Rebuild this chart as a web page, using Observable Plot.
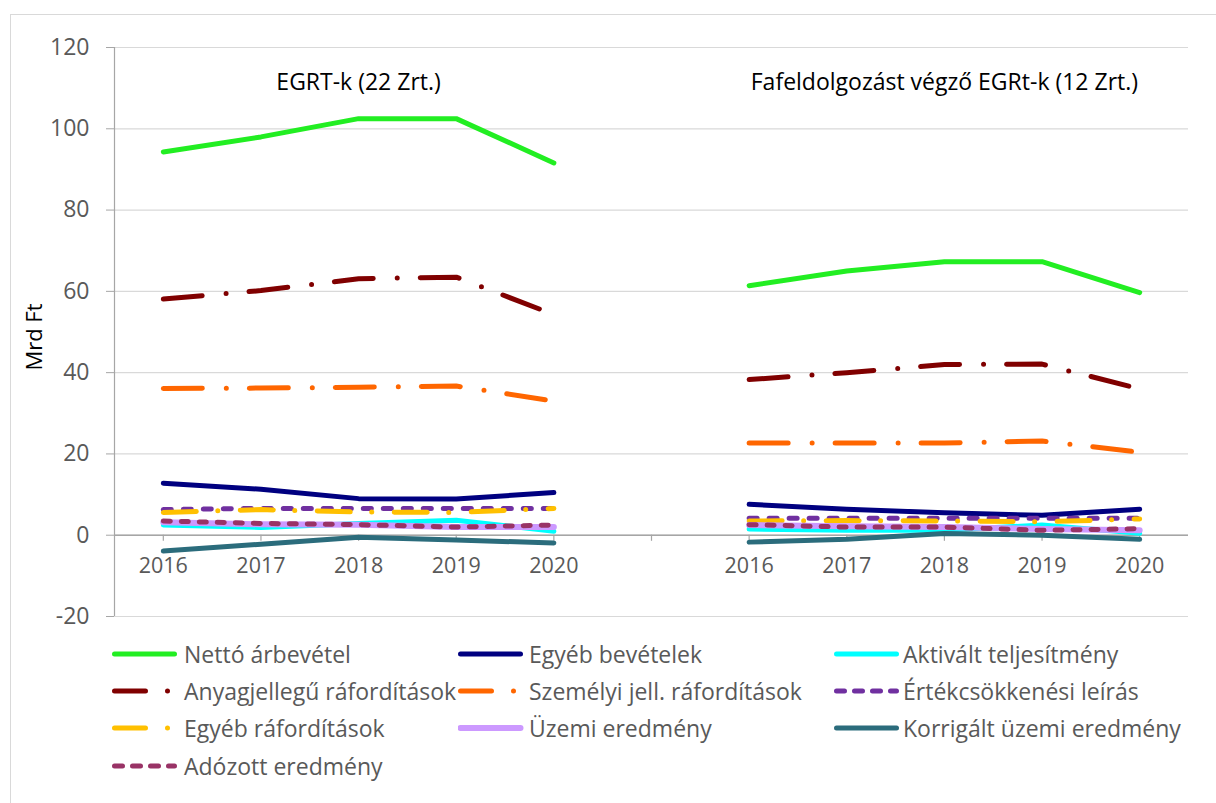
<!DOCTYPE html>
<html>
<head>
<meta charset="utf-8">
<script src="https://cdn.jsdelivr.net/npm/d3@7"></script>
<script src="https://cdn.jsdelivr.net/npm/@observablehq/plot@0.6"></script>
<style>
  html, body { margin: 0; padding: 0; background: #fff; }
  body { width: 1216px; height: 803px; position: relative; overflow: hidden; font-family: "Open Sans", Lato, sans-serif; }
  #frame { position: absolute; left: 10px; top: 14px; width: 1230px; height: 820px; border: 1px solid #d9d9d9; box-sizing: border-box; }
  #chart { position: absolute; left: 0; top: 0; }
  #ylabel { position: absolute; left: 33px; top: 337px; transform: translate(-50%, -50%) rotate(-90deg); font-size: 22px; color: #000; white-space: nowrap; }
  .leg { position: absolute; display: flex; align-items: center; font-size: 23px; color: #595959; white-space: nowrap; height: 30px; }
  .leg svg { display: block; }
</style>
</head>
<body>
<div id="frame"></div>
<div id="chart"></div>
<div id="ylabel">Mrd Ft</div>
<div id="legend"></div>
<script>
// ---- data ----
const xLabels = ["2016", "2017", "2018", "2019", "2020", "", "2016", "2017", "2018", "2019", "2020"];
const groupStart = [0, 6];
const groupTitles = ["EGRT-k (22 Zrt.)", "Fafeldolgozást végző EGRt-k (12 Zrt.)"];
const yTicks = [-20, 0, 20, 40, 60, 80, 100, 120];
const yDomain = [-20, 120];

const seriesNames = [
  "Nettó árbevétel", "Egyéb bevételek", "Aktivált teljesítmény",
  "Anyagjellegű ráfordítások", "Személyi jell. ráfordítások", "Értékcsökkenési leírás",
  "Egyéb ráfordítások", "Üzemi eredmény", "Korrigált üzemi eredmény",
  "Adózott eredmény"
];
// values: [group A (22 Zrt.), group B (12 Zrt.)]
const nettoArbevetel     = [[94.3, 98.0, 102.5, 102.5, 91.6], [61.4, 65.0, 67.3, 67.3, 59.7]];
const egyebBevetelek     = [[12.8, 11.3, 9.0, 8.9, 10.5],    [7.6, 6.4, 5.5, 4.9, 6.4]];
const aktivaltTelj       = [[2.5, 1.9, 2.9, 3.7, 1.0],       [1.5, 1.2, 1.2, 2.5, 0.5]];
const anyagjellegu       = [[58.1, 60.2, 63.1, 63.5, 54.3],  [38.3, 40.0, 42.0, 42.1, 36.0]];
const szemelyi           = [[36.1, 36.2, 36.4, 36.7, 33.0],  [22.7, 22.7, 22.7, 23.2, 20.4]];
const ertekcsokkenes     = [[6.3, 6.6, 6.6, 6.6, 6.6],       [4.2, 4.2, 4.2, 4.2, 4.2]];
const egyebRafordítasok  = [[5.6, 6.3, 5.7, 5.6, 6.6],       [3.5, 3.6, 3.5, 3.3, 4.0]];
const uzemiEredmeny      = [[3.2, 2.7, 2.6, 2.0, 2.0],       [2.5, 2.2, 2.0, 1.5, 1.2]];
const korrigaltUzemi     = [[-3.9, -2.2, -0.5, -1.2, -1.9],  [-1.7, -1.0, 0.4, 0.0, -1.0]];
const adozottEredmeny    = [[3.5, 2.9, 2.6, 2.0, 2.5],       [2.6, 2.0, 2.0, 1.2, 1.6]];

const seriesValues = [nettoArbevetel, egyebBevetelek, aktivaltTelj, anyagjellegu, szemelyi,
  ertekcsokkenes, egyebRafordítasok, uzemiEredmeny, korrigaltUzemi, adozottEredmeny];

// ---- styles ----
const styles = [
  {color: "#22ee22", width: 5, dash: null},
  {color: "#000080", width: 5, dash: null},
  {color: "#00ffff", width: 5, dash: null},
  {color: "#800000", width: 5, dash: "39,24,0,23", legDash: "31,22,0,100"},
  {color: "#ff6600", width: 5, dash: "39,24,0,23", legDash: "31,22,0,100"},
  {color: "#7030a0", width: 5, dash: "8,12", legDash: "8,10"},
  {color: "#ffc000", width: 5, dash: "33,21.5,0,22.5", legDash: "31,22,0,100"},
  {color: "#cc99ff", width: 6, dash: null},
  {color: "#2b6c7c", width: 5, dash: null},
  {color: "#993366", width: 5, dash: "7,11", legDash: "8,10"}
];

// ---- rows ----
const rows = [];
seriesValues.forEach((groups, s) => {
  groups.forEach((vals, g) => {
    vals.forEach((v, k) => rows.push({series: seriesNames[s], group: g, i: groupStart[g] + k, v}));
  });
});

const gray = "#a6a6a6";
const lineMarks = seriesNames.map((name, s) => Plot.line(rows.filter(r => r.series === name), {
  x: "i", y: "v", z: "group",
  stroke: styles[s].color, strokeWidth: styles[s].width,
  strokeDasharray: styles[s].dash || undefined,
  strokeLinecap: "round", strokeLinejoin: "round"
}));

const chart = Plot.plot({
  width: 1216,
  height: 630,
  marginTop: 47,
  marginBottom: 14,
  marginLeft: 114,
  marginRight: 28,
  style: {fontFamily: "'Open Sans', Lato, sans-serif", background: "transparent", overflow: "visible"},
  x: {domain: [-0.5, xLabels.length - 0.5], axis: null},
  y: {domain: yDomain, axis: null},
  marks: [
    Plot.ruleY(yTicks, {stroke: "#d9d9d9", strokeWidth: 1.2}),
    Plot.axisY({ticks: yTicks, tickSize: 8, tickPadding: 17, fontSize: 23, fill: "#595959", stroke: gray, label: null, tickFormat: d => String(d)}),
    Plot.ruleX([-0.5], {y1: yDomain[0], y2: yDomain[1], stroke: gray, strokeWidth: 1.2}),
    Plot.ruleY([0], {stroke: gray, strokeWidth: 1.5}),
    Plot.ruleX(xLabels.map((d, i) => i), {y1: 0, y2: -1.5, stroke: gray, strokeWidth: 1.2}),
    Plot.text(xLabels, {x: (d, i) => i, y: 0, text: d => d, dy: 31, fontSize: 21.5, fill: "#595959"}),
    Plot.text(groupTitles, {x: (d, i) => groupStart[i] + 2, frameAnchor: "top", dy: 26, text: d => d, fontSize: 23, fill: "#000"}),
    ...lineMarks
  ]
});
document.getElementById("chart").appendChild(chart);

// ---- legend ----
const legCols = [112, 458, 834];
const legTextX = [184, 529, 903];
const legRowY = [655, 692, 729, 767];
const legend = document.getElementById("legend");
seriesNames.forEach((name, s) => {
  const col = s % 3, row = Math.floor(s / 3);
  const st = styles[s];
  const div = document.createElement("div");
  div.className = "leg";
  div.style.left = legCols[col] + "px";
  div.style.top = (legRowY[row] - 16) + "px";
  const sw = legTextX[col] - legCols[col];
  const lineLen = 65;
  const dash = st.legDash ? ` stroke-dasharray="${st.legDash}"` : "";
  div.innerHTML = `<svg width="${sw}" height="12"><line x1="2.5" y1="6" x2="${lineLen - 2.5}" y2="6" stroke="${st.color}" stroke-width="${st.width}" stroke-linecap="round"${dash}/></svg><span>${name}</span>`;
  legend.appendChild(div);
});
</script>
</body>
</html>
